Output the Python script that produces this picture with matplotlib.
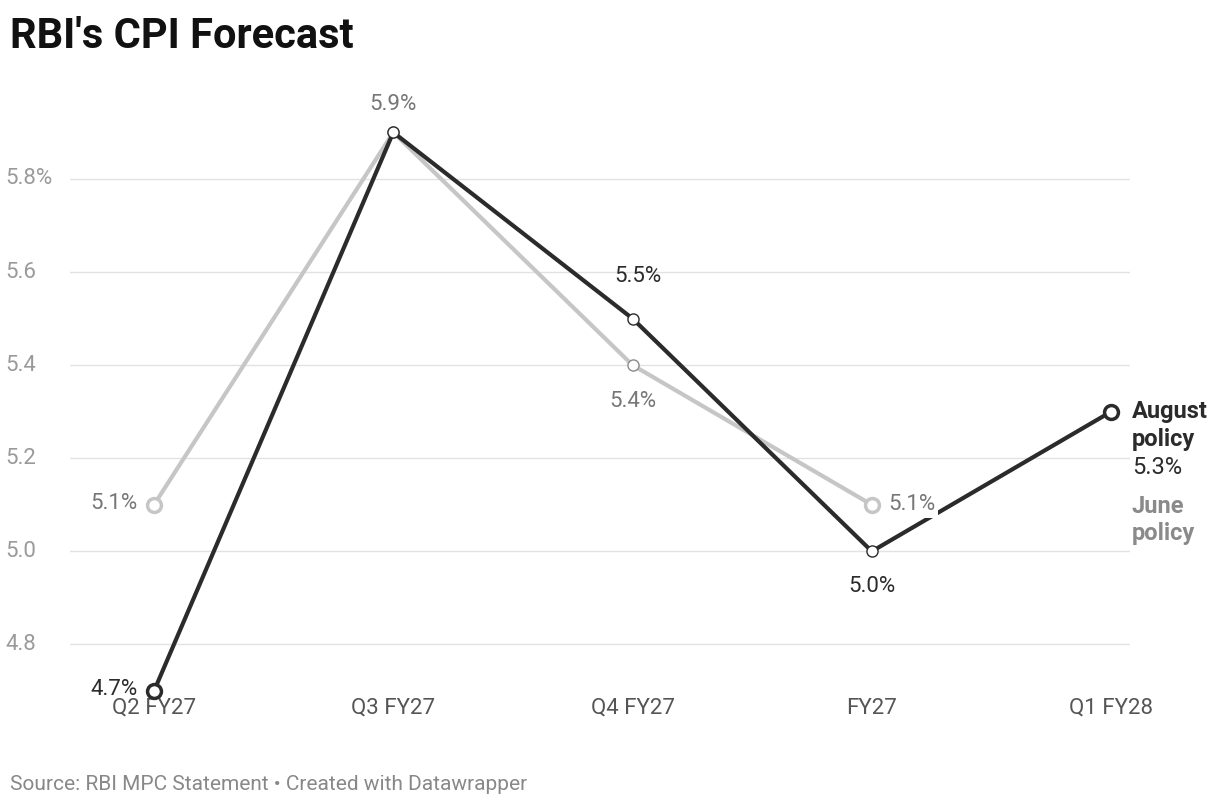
import matplotlib
matplotlib.use("Agg")
import matplotlib.pyplot as plt
import matplotlib.transforms as mtransforms

plt.rcParams['font.family'] = ['Roboto', 'DejaVu Sans']

categories = ['Q2 FY27', 'Q3 FY27', 'Q4 FY27', 'FY27', 'Q1 FY28']
june = [5.1, 5.9, 5.4, 5.1]
august = [4.7, 5.9, 5.5, 5.0, 5.3]
yticks = [4.8, 5.0, 5.2, 5.4, 5.6, 5.8]
ytick_labels = ['4.8', '5.0', '5.2', '5.4', '5.6', '5.8%']

gray = '#c6c6c6'
dark = '#2b2b2b'
label_gray = '#8a8a8a'

W, H = 1220, 808
fig = plt.figure(figsize=(W / 100, H / 100), dpi=100)
ax = fig.add_axes([70 / W, 1 - 691 / H, (1130 - 70) / W, (691 - 90) / H])

xs = list(range(len(categories)))
ax.set_xlim(-0.351, 4.079)
ax.set_ylim(4.7, 5.991)

for y in yticks:
    ax.axhline(y, color='#e2e2e2', lw=1, zorder=0)

ax.plot(xs[:len(june)], june, color=gray, lw=3, zorder=2)
ax.plot(xs[1:len(june) - 1], june[1:-1], 'o', ms=8, mfc='white', mec=label_gray, mew=1, zorder=3)
ax.plot([xs[0], xs[len(june) - 1]], [june[0], june[-1]], 'o', ms=10, mfc='white', mec=gray, mew=2.5, zorder=3)

ax.plot(xs, august, color=dark, lw=3, zorder=4, clip_on=False)
ax.plot(xs[1:-1], august[1:-1], 'o', ms=8, mfc='white', mec=dark, mew=1, zorder=5)
ax.plot([xs[0], xs[-1]], [august[0], august[-1]], 'o', ms=10, mfc='white', mec=dark, mew=2.5, zorder=5, clip_on=False)

for s in ax.spines.values():
    s.set_visible(False)
ax.set_yticks([])
ax.set_xticks(xs)
ax.set_xticklabels(categories, fontsize=16, color='#555555')
ax.tick_params(axis='x', length=0, pad=5)

trans = mtransforms.blended_transform_factory(fig.transFigure, ax.transData)
for y, lab in zip(yticks, ytick_labels):
    ax.text(5 / W, y, lab, transform=trans, fontsize=16, color='#9a9a9a', va='center', ha='left')

fs = 16
ax.annotate(f'{june[1]}%', (1, june[1]), xytext=(0, 20), textcoords='offset points', ha='center', va='center', fontsize=fs, color='#777777')
ax.annotate(f'{august[2]}%', (2, august[2]), xytext=(4, 30), textcoords='offset points', ha='center', va='center', fontsize=fs, color=dark)
ax.annotate(f'{june[2]}%', (2, june[2]), xytext=(0, -26), textcoords='offset points', ha='center', va='center', fontsize=fs, color='#777777')
ax.annotate(f'{june[0]}%', (0, june[0]), xytext=(-12, 1), textcoords='offset points', ha='right', va='center', fontsize=fs, color='#777777')
ax.annotate(f'{august[0]}%', (0, august[0]), xytext=(-12, 1), textcoords='offset points', ha='right', va='center', fontsize=fs, color=dark, annotation_clip=False)
ax.annotate(f'{august[3]}%', (3, august[3]), xytext=(0, -25), textcoords='offset points', ha='center', va='center', fontsize=fs, color=dark)
ax.annotate(f'{june[3]}%', (3, june[3]), xytext=(12, 0), textcoords='offset points', ha='left', va='center', fontsize=fs, color='#777777',
            bbox=dict(boxstyle='square,pad=0.1', fc='white', ec='none'), zorder=6)

rfs = 17
ax.annotate('August', (4, august[4]), xytext=(15, 0), textcoords='offset points', ha='left', va='center',
            fontsize=rfs, fontweight='bold', color=dark, annotation_clip=False)
ax.annotate('policy', (4, august[4]), xytext=(15, -20), textcoords='offset points', ha='left', va='center',
            fontsize=rfs, fontweight='bold', color=dark, annotation_clip=False)
ax.annotate(f'{august[4]}%', (4, august[4]), xytext=(15, -40), textcoords='offset points', ha='left', va='center',
            fontsize=rfs, color=dark, annotation_clip=False)
ax.annotate('June', (4, august[4]), xytext=(15, -68), textcoords='offset points', ha='left', va='center',
            fontsize=rfs, fontweight='bold', color=label_gray, annotation_clip=False)
ax.annotate('policy', (4, august[4]), xytext=(15, -88), textcoords='offset points', ha='left', va='center',
            fontsize=rfs, fontweight='bold', color=label_gray, annotation_clip=False)

fig.text(10 / W, 1 - 36 / H, "RBI's CPI Forecast", fontsize=30, fontweight='bold', color='#111111', va='center')
fig.text(10 / W, 1 - 784 / H, 'Source: RBI MPC Statement • Created with Datawrapper', fontsize=15, color='#888888', va='center')

fig.savefig('out.png', dpi=100)
